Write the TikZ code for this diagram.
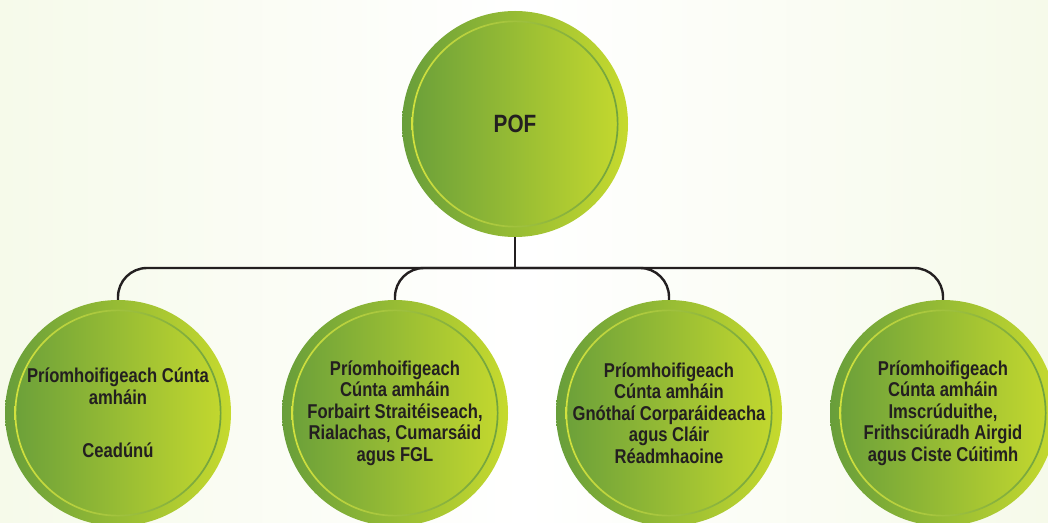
\documentclass[tikz,border=0pt]{standalone}
\usepackage{fontspec}
\setmainfont{Liberation Sans}[FakeStretch=0.83]
\usetikzlibrary{positioning}
\definecolor{leafdark}{RGB}{104,158,58}
\definecolor{leaflime}{RGB}{198,218,46}
\definecolor{ringlight}{RGB}{214,228,62}
\definecolor{ringdark}{RGB}{108,160,62}
\definecolor{inkdark}{RGB}{35,31,32}
\definecolor{bgcream}{RGB}{246,250,234}

\tikzset{
  rolecircle/.style={circle, minimum size=226pt, inner sep=0pt,
    left color=leafdark, right color=leaflime, text=inkdark, align=center,
    font=\bfseries\fontsize{20}{21.5}\selectfont,
    path picture={\shade[left color=ringlight, right color=ringdark, even odd rule]
      (path picture bounding box.center) circle (103.5pt)
      (path picture bounding box.center) circle (101.8pt);}},
  conn/.style={draw=inkdark, line width=2.4pt},
}

\begin{document}
\begin{tikzpicture}[x=1pt,y=1pt]
	\shade[left color=bgcream, right color=bgcream, middle color=white] (0,0) rectangle (1048,522);
	\useasboundingbox (0,0) rectangle (1048,522);
	\clip (0,0) rectangle (1048,522);

	\node[rolecircle, font=\bfseries\fontsize{25}{28}\selectfont] (pof) at (515,398) {POF};
	\coordinate (hub) at (515,254);

	\node[rolecircle] (c1) at (118,109) {Príomhoifigeach Cúnta\\amháin\\[32pt]Ceadúnú};
	\node[rolecircle] (c2) at (395,109) {Príomhoifigeach\\Cúnta amháin\\Forbairt Straitéiseach,\\Rialachas, Cumarsáid\\agus FGL};
	\node[rolecircle] (c3) at (669,109) {Príomhoifigeach\\Cúnta amháin\\Gnóthaí Corparáideacha\\agus Cláir\\Réadmhaoine};
	\node[rolecircle] (c4) at (943,109) {Príomhoifigeach\\Cúnta amháin\\Imscrúduithe,\\Frithsciúradh Airgid\\agus Ciste Cúitimh};

	\draw[conn] (pof.south) -- (hub);
	\foreach \to in {c1,c2,c3,c4}
	\draw[conn, rounded corners=29pt] (hub) -| (\to.north);
\end{tikzpicture}
\end{document}
